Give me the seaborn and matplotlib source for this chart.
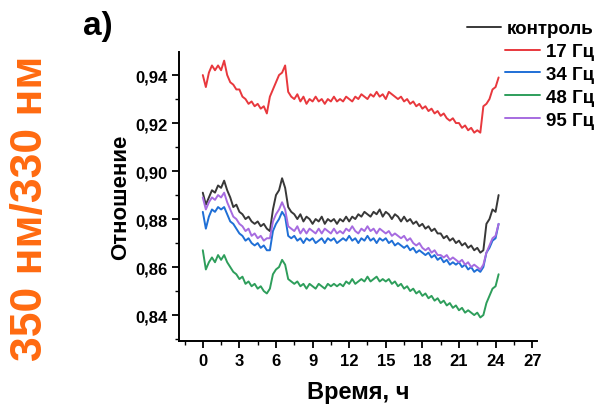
import numpy as np
import pandas as pd
import matplotlib
matplotlib.use("Agg")
import matplotlib.pyplot as plt
from matplotlib.ticker import MultipleLocator, FuncFormatter
import seaborn as sns

# values, every 0.25 h from 0 to 24.25 h
control = [0.891, 0.886, 0.889, 0.892, 0.891, 0.894, 0.893, 0.896, 0.892, 0.889,
           0.885, 0.886, 0.883, 0.882, 0.880, 0.881, 0.879, 0.878, 0.879, 0.877,
           0.878, 0.876, 0.875, 0.884, 0.890, 0.892, 0.897, 0.893, 0.885, 0.883,
           0.882, 0.880, 0.882, 0.879, 0.881, 0.880, 0.878, 0.880, 0.879, 0.881,
           0.878, 0.880, 0.879, 0.880, 0.878, 0.880, 0.879, 0.881, 0.879, 0.881,
           0.880, 0.882, 0.881, 0.883, 0.882, 0.881, 0.883, 0.882, 0.884, 0.881,
           0.883, 0.882, 0.880, 0.882, 0.881, 0.879, 0.881, 0.879, 0.880, 0.878,
           0.879, 0.877, 0.878, 0.876, 0.877, 0.875, 0.876, 0.874, 0.874, 0.872,
           0.873, 0.871, 0.872, 0.870, 0.871, 0.869, 0.870, 0.868, 0.869, 0.867,
           0.868, 0.866, 0.867, 0.878, 0.880, 0.884, 0.883, 0.890]

hz17 = [0.940, 0.935, 0.941, 0.944, 0.942, 0.944, 0.942, 0.946, 0.940, 0.937,
        0.936, 0.934, 0.934, 0.931, 0.930, 0.928, 0.929, 0.927, 0.928, 0.926,
        0.927, 0.924, 0.931, 0.934, 0.937, 0.940, 0.941, 0.944, 0.933, 0.931,
        0.930, 0.932, 0.929, 0.931, 0.928, 0.930, 0.929, 0.931, 0.929, 0.930,
        0.928, 0.930, 0.929, 0.931, 0.929, 0.930, 0.929, 0.931, 0.930, 0.929,
        0.931, 0.930, 0.932, 0.931, 0.930, 0.932, 0.931, 0.933, 0.931, 0.932,
        0.930, 0.933, 0.932, 0.931, 0.930, 0.931, 0.929, 0.930, 0.928, 0.929,
        0.927, 0.928, 0.926, 0.927, 0.925, 0.926, 0.924, 0.925, 0.923, 0.924,
        0.922, 0.921, 0.922, 0.920, 0.920, 0.918, 0.919, 0.917, 0.918, 0.916,
        0.917, 0.916, 0.927, 0.928, 0.930, 0.934, 0.935, 0.939]

hz34 = [0.883, 0.876, 0.881, 0.884, 0.883, 0.885, 0.884, 0.885, 0.882, 0.879,
        0.878, 0.876, 0.874, 0.873, 0.871, 0.872, 0.870, 0.869, 0.870, 0.868,
        0.869, 0.867, 0.867, 0.875, 0.878, 0.880, 0.883, 0.881, 0.873, 0.872,
        0.873, 0.871, 0.872, 0.870, 0.872, 0.871, 0.872, 0.870, 0.871, 0.872,
        0.870, 0.872, 0.871, 0.872, 0.870, 0.871, 0.872, 0.871, 0.873, 0.871,
        0.872, 0.870, 0.872, 0.871, 0.873, 0.871, 0.872, 0.870, 0.872, 0.871,
        0.872, 0.870, 0.871, 0.869, 0.870, 0.869, 0.868, 0.869, 0.867, 0.868,
        0.866, 0.867, 0.866, 0.865, 0.866, 0.864, 0.865, 0.863, 0.864, 0.862,
        0.863, 0.861, 0.862, 0.861, 0.862, 0.860, 0.861, 0.859, 0.860, 0.858,
        0.859, 0.858, 0.860, 0.866, 0.868, 0.871, 0.872, 0.878]

hz48 = [0.867, 0.859, 0.862, 0.864, 0.862, 0.865, 0.863, 0.865, 0.862, 0.860,
        0.858, 0.857, 0.855, 0.856, 0.853, 0.854, 0.852, 0.853, 0.851, 0.852,
        0.850, 0.849, 0.851, 0.857, 0.859, 0.860, 0.863, 0.861, 0.855, 0.854,
        0.853, 0.854, 0.852, 0.853, 0.851, 0.853, 0.852, 0.851, 0.853, 0.852,
        0.851, 0.853, 0.852, 0.853, 0.852, 0.853, 0.852, 0.854, 0.853, 0.855,
        0.853, 0.854, 0.855, 0.854, 0.856, 0.854, 0.855, 0.856, 0.854, 0.855,
        0.854, 0.855, 0.853, 0.854, 0.852, 0.853, 0.851, 0.852, 0.850, 0.851,
        0.849, 0.850, 0.848, 0.849, 0.847, 0.848, 0.846, 0.847, 0.845, 0.846,
        0.844, 0.845, 0.843, 0.844, 0.842, 0.843, 0.841, 0.842, 0.841, 0.840,
        0.841, 0.839, 0.840, 0.845, 0.848, 0.851, 0.852, 0.857]

hz95 = [0.889, 0.884, 0.887, 0.889, 0.888, 0.890, 0.889, 0.891, 0.887, 0.884,
        0.881, 0.880, 0.878, 0.877, 0.875, 0.876, 0.873, 0.874, 0.872, 0.873,
        0.871, 0.872, 0.872, 0.879, 0.882, 0.884, 0.887, 0.884, 0.877, 0.876,
        0.875, 0.877, 0.874, 0.876, 0.874, 0.876, 0.875, 0.874, 0.876, 0.874,
        0.876, 0.875, 0.874, 0.876, 0.874, 0.875, 0.874, 0.876, 0.875, 0.877,
        0.875, 0.874, 0.876, 0.875, 0.877, 0.875, 0.876, 0.874, 0.876, 0.875,
        0.874, 0.875, 0.873, 0.874, 0.873, 0.872, 0.873, 0.871, 0.872, 0.870,
        0.869, 0.870, 0.868, 0.867, 0.868, 0.866, 0.867, 0.865, 0.865, 0.864,
        0.865, 0.863, 0.864, 0.863, 0.862, 0.863, 0.861, 0.862, 0.860, 0.861,
        0.860, 0.859, 0.861, 0.866, 0.869, 0.872, 0.873, 0.878]

labels = ["контроль", "17 Гц", "34 Гц", "48 Гц", "95 Гц"]
colors = ["#383838", "#e8383d", "#1f6fd6", "#2e9e5b", "#a66be0"]
series = [control, hz17, hz34, hz48, hz95]

frames = []
for name, vals in zip(labels, series):
    frames.append(pd.DataFrame({"time": np.arange(len(vals)) * 0.25,
                                "ratio": vals, "group": name}))
df = pd.concat(frames, ignore_index=True)

sns.set_style("ticks")
plt.rcParams['font.family'] = ['Liberation Sans', 'DejaVu Sans']
plt.rcParams['font.weight'] = 'bold'
plt.rcParams['text.color'] = 'black'
plt.rcParams['axes.labelcolor'] = 'black'
plt.rcParams['xtick.color'] = 'black'
plt.rcParams['ytick.color'] = 'black'

fig = plt.figure(figsize=(6.06, 4.10), dpi=100)
ax = fig.add_axes([0.2954, 0.1659, 0.5908, 0.7048])

sns.lineplot(data=df, x="time", y="ratio", hue="group", hue_order=labels,
             palette=colors, linewidth=1.4, ax=ax)

ax.set_xlim(-1.95, 27.4)
ax.set_ylim(0.8292, 0.9496)
ax.xaxis.set_major_locator(MultipleLocator(3))
ax.xaxis.set_minor_locator(MultipleLocator(1.5))
ax.yaxis.set_major_locator(MultipleLocator(0.02))
ax.yaxis.set_minor_locator(MultipleLocator(0.01))
ax.yaxis.set_major_formatter(FuncFormatter(lambda v, p: f"{v:.2f}".replace(".", ",")))
ax.tick_params(which="major", direction="out", length=5, width=1.3, labelsize=12)
ax.tick_params(which="minor", direction="out", length=3, width=1.0)
for lab in ax.get_xticklabels() + ax.get_yticklabels():
    lab.set_fontweight("bold")

sns.despine(ax=ax)
for sp in ["left", "bottom"]:
    ax.spines[sp].set_linewidth(1.4)
    ax.spines[sp].set_color("black")

ax.set_xlabel("Время, ч", fontsize=17, fontweight="bold", labelpad=9)
ax.set_ylabel("Отношение", fontsize=16, fontweight="bold", labelpad=3)

leg = ax.legend(loc="upper right", bbox_to_anchor=(603 / 606, 1 - 12 / 410),
                bbox_transform=fig.transFigure, frameon=False,
                handlelength=1.85, handletextpad=0.3, labelspacing=0.3, borderpad=0,
                prop={"weight": "bold", "size": 13.5})
# right-align the rows so the short labels sit against the right edge
for col in leg._legend_handle_box.get_children():
    col.align = "right"

fig.text(98 / 606, 1 - 27 / 410, "a)", fontsize=24, fontweight="bold",
         ha="center", va="center")
fig.text(31 / 606, 1 - 208 / 410, "350 нм/330 нм", fontsize=32, fontweight="bold",
         color="#ff6a10", rotation=90, ha="center", va="center")

fig.savefig("out.png", dpi=100)
